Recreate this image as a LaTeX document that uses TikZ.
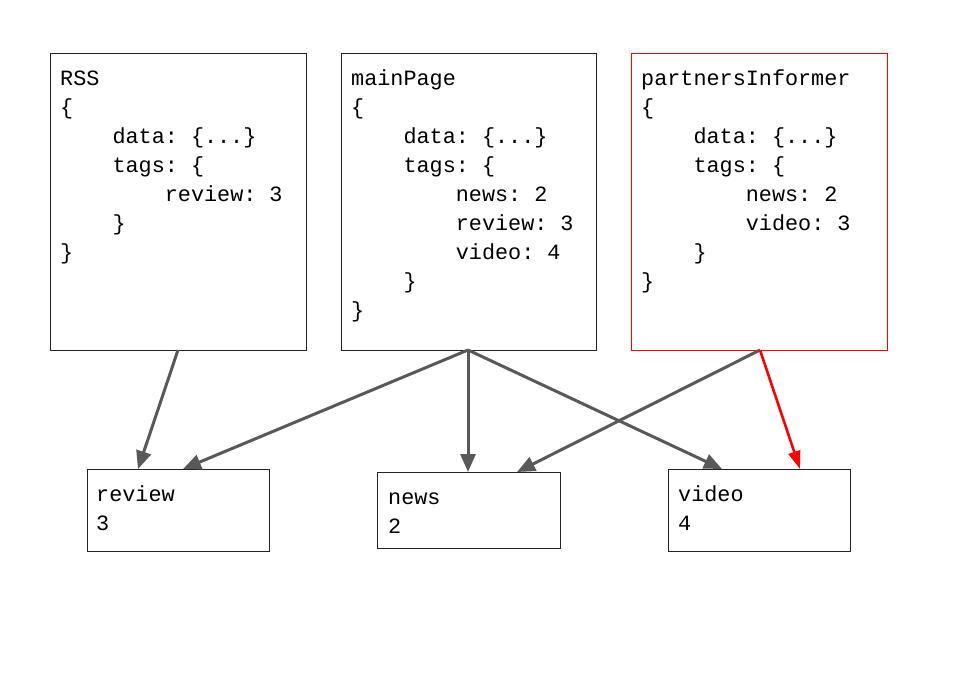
\documentclass[tikz,border=0pt]{standalone}
\usepackage{fontspec}
\newfontfamily\codefont{Liberation Mono}
\usetikzlibrary{arrows.meta}
\definecolor{arrowgray}{HTML}{595959}
\definecolor{boxline}{HTML}{222222}
\newcommand\codeind{\hphantom{0000}}
\newcommand\firstline{\rule{0pt}{18pt}}
\frenchspacing
\begin{document}
\begin{tikzpicture}[x=1pt,y=-1pt,
  box/.style={draw=boxline, line width=1pt, anchor=north west, inner sep=0pt},
  code/.style={anchor=north west, inner sep=0pt, align=left, font=\codefont\fontsize{21.8}{29}\selectfont\frenchspacing},
  link/.style={draw=arrowgray, line width=3pt, -{Triangle[length=18pt,width=15pt]}},
  redlink/.style={draw=red, line width=2.6pt, -{Triangle[length=18pt,width=12pt]}}]
\useasboundingbox[fill=white] (0,0) rectangle (959,691);

% top boxes
\node[box, minimum width=256pt, minimum height=297pt] (rss) at (50,53) {};
\node[box, minimum width=255pt, minimum height=297pt] (main) at (341,53) {};
\node[box, draw=red, minimum width=256pt, minimum height=297pt] (part) at (631,53) {};

\node[code] (rsstext) at (60,67) {\firstline RSS\\
\{\\
\codeind data: \{...\}\\
\codeind tags: \{\\
\codeind\codeind review: 3\\
\codeind\}\\
\}};

\node[code] (maintext) at (351,67) {\firstline mainPage\\
\{\\
\codeind data: \{...\}\\
\codeind tags: \{\\
\codeind\codeind news: 2\\
\codeind\codeind review: 3\\
\codeind\codeind video: 4\\
\codeind\}\\
\}};

\node[code] (parttext) at (641,67) {\firstline partnersInformer\\
\{\\
\codeind data: \{...\}\\
\codeind tags: \{\\
\codeind\codeind news: 2\\
\codeind\codeind video: 3\\
\codeind\}\\
\}};

% bottom boxes
\node[box, minimum width=182pt, minimum height=82pt] (review) at (87,469) {};
\node[box, minimum width=183pt, minimum height=76pt] (news) at (377,472) {};
\node[box, minimum width=182pt, minimum height=82pt] (video) at (668,469) {};

\node[code] (reviewtext) at (96,483.7) {\firstline review\\3};
\node[code] (newstext) at (388,486) {\firstline news\\2};
\node[code] (videotext) at (678,483.7) {\firstline video\\4};

% connector end points
\coordinate (rssout) at (178,350);
\coordinate (mainout) at (468,350);
\coordinate (partout) at (760,350);
\coordinate (reviewinA) at (138,469);
\coordinate (reviewinB) at (183,469);
\coordinate (newsinA) at (468,472);
\coordinate (newsinB) at (517,472);
\coordinate (videoinA) at (722,469);
\coordinate (videoinB) at (800,469);

\draw[link] (rssout) -- (reviewinA);
\draw[link] (mainout) -- (reviewinB);
\draw[link] (mainout) -- (newsinA);
\draw[link] (mainout) -- (videoinA);
\draw[link] (partout) -- (newsinB);
\draw[redlink] (partout) -- (videoinB);
\end{tikzpicture}
\end{document}
